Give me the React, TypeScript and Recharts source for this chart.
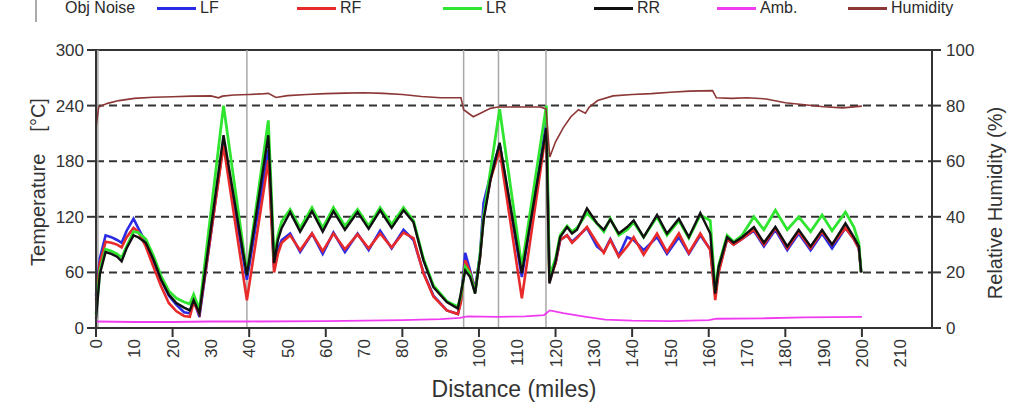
import React from "react";
import { LineChart, Line, XAxis, YAxis, ReferenceLine, Legend } from "recharts";

// tyre temperatures (°C) vs distance (miles)
const distance = [
  0, 1, 2.5, 4, 5.5, 6.7, 8, 9.8, 11, 13, 15, 17, 19, 21, 23, 24.5, 25.5, 27, 33.3, 39.4,
  45, 46.5, 47.5, 48.5, 50.7, 53.3, 56.4, 59.2, 62, 65, 68.3, 71.2, 74.2, 77.2, 80.3, 82.9,
  85.5, 88.1, 91.6, 94.5, 95.3, 96.4, 97.7, 99, 100.3, 101.2, 103, 105.4, 111.2, 117.6,
  118.4, 120, 121.2, 123, 124.3, 125.6, 128.2, 130.8, 132.6, 134.3, 136.5, 138.7, 140.4,
  143, 146.5, 149.1, 152.2, 154.8, 157.8, 160.4, 161.7, 162.6, 164.8, 166.5, 168.7, 171.8,
  174.4, 177.4, 180.5, 183.5, 186.6, 189.6, 192.2, 195.7, 197.9, 199.2, 199.8,
];
const lf = [
  35, 75, 100, 98, 95, 92, 105, 118, 108, 92, 72, 52, 35, 25, 17, 16, 30, 12, 200, 52,
  192, 65, 85, 95, 102, 82, 102, 80, 103, 82, 102, 84, 105, 86, 106, 95,
  60, 35, 19, 15, 30, 81, 62, 42, 80, 135, 165, 198, 55, 222,
  60, 70, 95, 100, 93, 98, 108, 88, 82, 96, 78, 98, 95,
  84, 98, 80, 98, 80, 100, 85, 35, 62, 96, 90, 96, 105,
  88, 106, 84, 102, 84, 102, 86, 108, 96, 86, 60,
];
const rf = [
  30, 70, 93, 92, 90, 87, 98, 108, 104, 88, 66, 45, 27, 18, 13, 12, 28, 15, 197, 30,
  181, 60, 80, 92, 100, 84, 102, 83, 102, 85, 101, 86, 102, 87, 103, 97,
  59, 34, 19, 15, 28, 73, 60, 40, 77, 120, 160, 192, 32, 214,
  50, 70, 95, 100, 92, 97, 109, 92, 81, 95, 77, 88, 98,
  79, 102, 82, 102, 81, 102, 84, 30, 60, 96, 90, 96, 106,
  90, 108, 86, 104, 86, 104, 90, 108, 96, 86, 60,
];
const lr = [
  15, 62, 85, 83, 80, 76, 88, 104, 103, 96, 78, 56, 40, 32, 28, 26, 36, 20, 240, 59,
  224, 75, 100, 115, 128, 108, 130, 108, 130, 110, 128, 110, 130, 112, 130, 116,
  75, 46, 29, 23, 35, 66, 58, 38, 80, 120, 170, 236, 66, 240,
  55, 75, 100, 110, 104, 108, 124, 113, 104, 118, 100, 106, 114,
  98, 120, 100, 116, 97, 122, 116, 40, 68, 100, 93, 100, 120,
  106, 127, 106, 120, 104, 122, 105, 125, 109, 92, 60,
];
const rr = [
  10, 58, 82, 80, 77, 72, 86, 100, 98, 92, 74, 52, 36, 27, 22, 19, 30, 16, 208, 57,
  208, 70, 95, 108, 125, 104, 126, 104, 126, 106, 125, 107, 127, 108, 127, 114,
  73, 44, 28, 21, 38, 62, 55, 37, 77, 116, 160, 200, 59, 216,
  48, 72, 98, 109, 102, 106, 129, 113, 106, 117, 102, 109, 116,
  98, 122, 102, 118, 98, 124, 102, 37, 66, 98, 92, 98, 109,
  92, 109, 88, 106, 88, 106, 90, 113, 98, 88, 60,
];

// ambient temperature (°C)
const ambDistance = [0, 10, 20, 30, 40, 60, 80, 90, 95, 97, 105, 112, 117, 118.5, 122, 128, 133, 140, 150, 160, 162, 175, 185, 200];
const amb = [7, 6.5, 6.5, 7, 7, 7.5, 8.5, 9.5, 11, 12.5, 12, 12.5, 14, 19, 16, 12, 9, 8, 7.5, 8.5, 10, 10.5, 11.5, 12];

// relative humidity (%)
const humDistance = [
  0, 0.7, 3, 6, 10, 15, 20, 25, 30, 32, 33, 36, 40, 43, 45, 47, 50, 55, 60, 65, 70, 75, 80,
  85, 90, 95.3, 96, 98.5, 100, 103, 105, 110, 116, 117.5, 118.5, 120, 122, 124, 126, 127.8,
  128.8, 131, 135, 140, 145, 150, 155, 161, 162, 166, 170, 175, 180, 185, 190, 195, 200,
];
const humidity = [
  72, 79.5, 80.8, 81.8, 82.6, 83, 83.2, 83.4, 83.5, 82.8, 83.4, 83.8, 84, 84.2, 84.4, 82.9,
  83.6, 84, 84.3, 84.5, 84.6, 84.4, 84, 83.3, 82.8, 82.8, 78.5, 76, 77, 79, 79.5, 79.5, 79.5,
  78.8, 61.5, 67, 72, 76, 78.5, 77.3, 79.5, 81.8, 83.5, 84, 84.3, 84.8, 85.2, 85.4, 82.8, 82.6,
  82.8, 82.4, 81, 80.3, 79.6, 79.2, 79.8,
];

const xTicks = [0, 10, 20, 30, 40, 50, 60, 70, 80, 90, 100, 110, 120, 130, 140, 150, 160, 170, 180, 190, 200, 210];
const tempTicks = [0, 60, 120, 180, 240, 300];
const humTicks = [0, 20, 40, 60, 80, 100];
const gridTemps = [60, 120, 180, 240];
const lapMarks = [0.5, 39.4, 96, 105.1, 117.5];
const legendOrder = ["LF", "RF", "LR", "RR", "Amb.", "Humidity"];

const tyreData = distance.map((d, i) => ({ d, lf: lf[i], rf: rf[i], lr: lr[i], rr: rr[i] }));
const ambData = ambDistance.map((d, i) => ({ d, amb: amb[i] }));
const humData = humDistance.map((d, i) => ({ d, hum: humidity[i] }));

const FONT = "'Liberation Sans', Arial, sans-serif";
const AXIS = "#333";
const legendLeft = [157, 297, 443, 594, 717, 848];

function XTick(props: any) {
  const { x, y, payload } = props;
  const major = payload.value % 20 === 0;
  return (
    <g>
      {major && <line x1={x} y1={y} x2={x} y2={y + 9} stroke={AXIS} strokeWidth={2} />}
      <text
        x={x}
        y={y + 11}
        transform={`rotate(-90 ${x} ${y + 11})`}
        textAnchor="end"
        dy="0.36em"
        fontSize={17}
        fontFamily={FONT}
        fill="#333"
      >
        {payload.value}
      </text>
    </g>
  );
}

function LegendBox(props: any) {
  const items = [...(props.payload || [])].sort(
    (a: any, b: any) => legendOrder.indexOf(a.value) - legendOrder.indexOf(b.value)
  );
  return (
    <div style={{ position: "relative", height: 24, fontFamily: FONT, fontSize: 16, color: "#2a2a2a" }}>
      <div style={{ position: "absolute", left: 35, top: 0, width: 2, height: 22, background: "#aaa" }} />
      <span style={{ position: "absolute", left: 65, top: 0, lineHeight: "16px", whiteSpace: "nowrap" }}>Obj Noise</span>
      {items.map((it: any, i: number) => (
        <div key={it.value} style={{ position: "absolute", left: legendLeft[i], top: 0 }}>
          <div style={{ position: "absolute", left: 0, top: 7, width: 39, height: 3, background: it.color }} />
          <span style={{ position: "absolute", left: 43, top: 0, lineHeight: "16px", whiteSpace: "nowrap" }}>{it.value}</span>
        </div>
      ))}
    </div>
  );
}

const tempLabel = (props: any) => {
  const cx = 38;
  const cy = 182;
  return (
    <text transform={`rotate(-90 ${cx} ${cy})`} x={cx} y={cy} textAnchor="middle" dy="0.36em" fontSize={20} fontFamily={FONT} fill="#333">
      <tspan>Temperature</tspan>
      <tspan dx={22}>[°C]</tspan>
    </text>
  );
};

const humLabel = (props: any) => {
  const cx = 995;
  const cy = 203;
  return (
    <text transform={`rotate(-90 ${cx} ${cy})`} x={cx} y={cy} textAnchor="middle" dy="0.36em" fontSize={20} fontFamily={FONT} fill="#333">
      Relative Humidity (%)
    </text>
  );
};

const distLabel = (props: any) => {
  const vb = props.viewBox || { x: 96, width: 836 };
  return (
    <text x={vb.x + vb.width / 2} y={397} textAnchor="middle" fontSize={23} fontFamily={FONT} fill="#333">
      Distance (miles)
    </text>
  );
};

export default function App() {
  return (
    <div style={{ position: "absolute", left: 0, top: 0, width: 1023, height: 403, background: "#fff", overflow: "hidden" }}>
      <LineChart width={1023} height={403} data={tyreData} margin={{ top: 50, right: 31, bottom: 15, left: 36 }}>
        <XAxis
          dataKey="d"
          type="number"
          domain={[0, 218.3]}
          ticks={xTicks}
          interval={0}
          tick={<XTick />}
          tickLine={false}
          tickSize={0}
          tickMargin={0}
          height={60}
          axisLine={{ stroke: AXIS, strokeWidth: 2 }}
          label={distLabel}
        />
        <YAxis
          yAxisId="left"
          domain={[0, 300]}
          ticks={tempTicks}
          interval={0}
          width={60}
          tickSize={9}
          tickMargin={3}
          tick={{ fontSize: 17, fontFamily: FONT, fill: "#333" }}
          tickLine={{ stroke: AXIS, strokeWidth: 2 }}
          axisLine={{ stroke: AXIS, strokeWidth: 2 }}
          label={tempLabel}
        />
        <YAxis
          yAxisId="right"
          orientation="right"
          domain={[0, 100]}
          ticks={humTicks}
          interval={0}
          width={60}
          tickSize={9}
          tickMargin={5}
          tick={{ fontSize: 17, fontFamily: FONT, fill: "#333" }}
          tickLine={{ stroke: AXIS, strokeWidth: 2 }}
          axisLine={{ stroke: AXIS, strokeWidth: 2 }}
          label={humLabel}
        />
        {gridTemps.map((t) => (
          <ReferenceLine key={t} yAxisId="left" y={t} stroke="#333" strokeWidth={2} strokeDasharray="8 5" />
        ))}
        <ReferenceLine yAxisId="left" y={300} stroke={AXIS} strokeWidth={2} />
        {lapMarks.map((m) => (
          <ReferenceLine key={m} yAxisId="left" x={m} stroke="#a8a8a8" strokeWidth={1.5} />
        ))}
        <Legend verticalAlign="middle" align="center" content={<LegendBox />} wrapperStyle={{ top: 0, left: 0, width: 1023, height: 24 }} />
        <Line yAxisId="left" name="LF" dataKey="lf" stroke="#2b2be6" strokeWidth={2.6} dot={false} isAnimationActive={false} />
        <Line yAxisId="left" name="RF" dataKey="rf" stroke="#e82a2a" strokeWidth={2.6} dot={false} isAnimationActive={false} />
        <Line yAxisId="left" name="LR" dataKey="lr" stroke="#2fe52f" strokeWidth={2.8} dot={false} isAnimationActive={false} />
        <Line yAxisId="left" name="RR" dataKey="rr" stroke="#111" strokeWidth={2.4} dot={false} isAnimationActive={false} />
        <Line yAxisId="left" name="Amb." data={ambData} dataKey="amb" stroke="#f03cf0" strokeWidth={1.8} dot={false} isAnimationActive={false} />
        <Line yAxisId="right" name="Humidity" data={humData} dataKey="hum" stroke="#8c3636" strokeWidth={1.6} dot={false} isAnimationActive={false} />
      </LineChart>
    </div>
  );
}
